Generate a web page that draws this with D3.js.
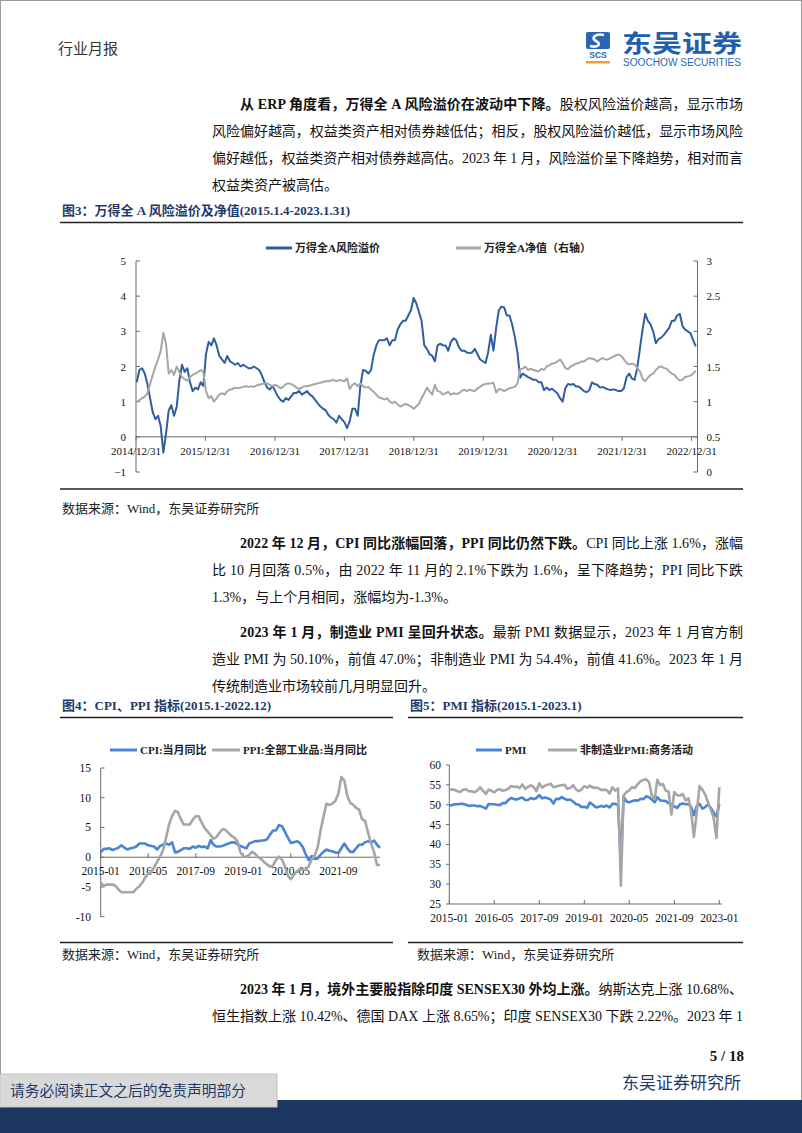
<!DOCTYPE html>
<html><head><meta charset="utf-8">
<script src="https://cdn.jsdelivr.net/npm/d3@7"></script>
<style>
html,body{margin:0;padding:0;background:#fff;}
svg{display:block;}
</style></head>
<body>
<svg id="page" width="802" height="1133"></svg>
<script>
// ---------------- DATA ----------------
// Fig.3: biweekly samples from 2015-01-04 to 2023-01
const erpStart = "2015-01-04";
const erpValues = [
1.55,1.9,1.95,1.8,1.5,1.1,0.7,0.5,0.6,0.3,
-0.45,0.1,0.75,0.9,0.6,0.85,1.6,2.05,1.85,1.95,
1.55,1.3,1.4,1.35,1.55,1.45,2.35,2.7,2.6,2.8,
2.6,2.3,2.2,2.1,2.3,2.15,2.1,2.05,2.1,2.0,
2.05,2.0,1.95,1.95,2.0,1.95,1.9,1.75,1.55,1.4,
1.35,1.45,1.3,1.15,1.05,1.0,1.1,1.05,1.15,1.25,
1.25,1.3,1.2,1.25,1.3,1.2,1.15,1.05,0.95,
0.86,0.8,0.75,0.62,0.55,0.5,0.4,0.6,0.5,0.42,
0.25,0.45,0.8,0.8,0.6,1.45,1.9,1.88,1.8,1.9,
2.33,2.6,2.75,2.75,2.75,2.8,2.6,2.75,2.75,3.05,
3.2,3.3,3.3,3.45,3.6,3.95,3.8,3.55,3.3,2.6,
2.5,2.35,2.3,2.15,2.6,2.65,2.6,2.6,2.45,2.7,
2.8,2.75,2.55,2.45,2.45,2.4,2.38,2.4,2.5,2.35,
2.2,2.15,2.1,2.4,2.9,2.45,3.1,3.6,
3.7,3.68,3.45,3.45,3.2,2.85,2.4,1.68,1.8,1.75,
1.7,1.66,1.62,1.62,1.55,1.55,1.33,1.4,1.33,1.37,
1.3,1.24,1.1,1.0,1.38,1.5,1.48,1.5,1.43,1.43,
1.37,1.3,1.27,1.33,1.55,1.5,1.48,1.4,1.42,1.38,
1.35,1.33,1.35,1.33,1.3,1.3,1.38,1.7,1.8,1.66,
1.62,1.95,2.5,3.05,3.5,3.3,3.2,3.0,2.66,2.78,
2.82,2.9,3.0,3.1,3.3,3.3,3.45,3.5,3.15,3.05,
3.0,2.95,2.75,2.57
];
const navValues = [
1.0,1.02,1.05,1.07,1.12,1.25,1.38,1.5,1.6,1.72,
1.98,1.82,1.4,1.45,1.38,1.5,1.42,1.35,1.32,1.3,
1.35,1.38,1.4,1.42,1.45,1.42,1.15,1.05,1.08,1.0,
1.05,1.1,1.12,1.1,1.15,1.17,1.18,1.2,1.19,1.2,
1.21,1.22,1.21,1.22,1.21,1.23,1.24,1.25,1.26,1.26,
1.24,1.22,1.24,1.22,1.19,1.21,1.25,1.26,1.25,1.23,
1.2,1.18,1.2,1.22,1.22,1.23,1.24,1.25,1.26,
1.27,1.28,1.29,1.29,1.3,1.31,1.29,1.31,1.3,1.29,
1.33,1.18,1.24,1.26,1.22,1.26,1.22,1.2,1.21,1.17,
1.14,1.1,1.06,1.05,1.03,1.05,1.0,0.98,1.0,0.96,
0.93,0.95,0.97,0.95,0.93,0.9,0.93,0.97,1.05,1.12,
1.2,1.15,1.1,1.24,1.15,1.14,1.1,1.12,1.14,1.1,
1.12,1.11,1.12,1.15,1.17,1.15,1.17,1.16,1.15,1.19,
1.21,1.24,1.25,1.26,1.26,1.27,1.13,1.18,
1.17,1.15,1.17,1.19,1.2,1.21,1.26,1.46,1.47,1.5,
1.45,1.47,1.45,1.44,1.43,1.47,1.45,1.5,1.52,1.54,
1.55,1.57,1.6,1.55,1.48,1.46,1.5,1.52,1.54,1.55,
1.57,1.57,1.6,1.62,1.61,1.6,1.57,1.6,1.62,1.6,
1.6,1.62,1.64,1.66,1.67,1.65,1.6,1.55,1.53,1.54,
1.53,1.48,1.43,1.33,1.29,1.34,1.38,1.4,1.45,1.49,
1.5,1.48,1.47,1.43,1.4,1.38,1.33,1.3,1.31,1.35,
1.36,1.37,1.4,1.44
];
const fig3XTicks = ["2014/12/31","2015/12/31","2016/12/31","2017/12/31","2018/12/31","2019/12/31","2020/12/31","2021/12/31","2022/12/31"];
const fig3LeftTicks = [-1,0,1,2,3,4,5];
const fig3RightTicks = [0,0.5,1,1.5,2,2.5,3];

// Fig.4: monthly, 2015-01 .. 2022-11
const cpiStart = "2015-01";
const cpiValues = [
0.8,1.4,1.4,1.5,1.2,1.4,1.6,2.0,1.6,1.3,1.5,1.6,
1.8,2.3,2.3,2.3,2.0,1.9,1.8,1.3,1.9,2.1,2.3,2.1,
2.5,0.8,0.9,1.2,1.5,1.5,1.4,1.8,1.6,1.9,1.7,1.8,
1.5,2.9,2.1,1.8,1.8,1.9,2.1,2.3,2.5,2.5,2.2,1.9,
1.7,1.5,2.3,2.5,2.7,2.7,2.8,2.8,3.0,3.8,4.5,4.5,
5.4,5.2,4.3,3.3,2.4,2.5,2.7,2.4,1.7,0.5,-0.5,0.2,
-0.3,-0.2,0.4,0.9,1.3,1.1,1.0,0.8,0.7,1.5,2.3,1.5,
0.9,0.9,1.5,2.1,2.1,2.5,2.7,2.5,2.8,2.1,1.6
];
const ppiValues = [
-4.3,-4.8,-4.6,-4.6,-4.6,-4.8,-5.4,-5.9,-5.9,-5.9,-5.9,-5.9,
-5.3,-4.9,-4.3,-3.4,-2.8,-2.6,-1.7,-0.8,0.1,1.2,3.3,5.5,
6.9,7.8,7.6,6.4,5.5,5.5,5.5,6.3,6.9,6.9,5.8,4.9,
4.3,3.7,3.1,3.4,4.1,4.7,4.6,4.1,3.6,3.3,2.7,0.9,
0.1,0.1,0.4,0.9,0.6,0.0,-0.3,-0.8,-1.2,-1.6,-1.4,-0.5,
0.1,-0.4,-1.5,-3.1,-3.7,-3.0,-2.4,-2.0,-2.1,-2.1,-1.5,-0.4,
0.3,1.7,4.4,6.8,9.0,8.8,9.0,9.5,10.7,13.5,12.9,10.3,
9.1,8.8,8.3,8.0,6.4,6.1,4.2,2.3,0.9,-1.3,-1.3
];
const fig4XTicks = ["2015-01","2016-05","2017-09","2019-01","2020-05","2021-09"];
const fig4YTicks = [-10,-5,0,5,10,15];

// Fig.5: monthly, 2015-01 .. 2023-01
const pmiStart = "2015-01";
const pmiValues = [
49.8,49.9,50.1,50.1,50.2,50.2,50.0,49.7,49.8,49.8,49.6,49.7,
49.4,49.0,50.2,50.1,50.1,50.0,49.9,50.4,50.4,51.2,51.7,51.4,
51.3,51.6,51.8,51.2,51.2,51.7,51.4,51.7,52.4,51.6,51.8,51.6,
51.3,50.3,51.5,51.4,51.9,51.5,51.2,51.3,50.8,50.2,50.0,49.4,
49.5,49.2,50.5,50.1,49.4,49.4,49.7,49.5,49.8,49.3,50.2,50.2,
50.0,35.7,52.0,50.8,50.6,50.9,51.1,51.0,51.5,51.4,52.1,51.9,
51.3,50.6,51.9,51.1,51.0,50.9,50.4,50.1,49.6,49.2,50.1,50.3,
50.1,50.2,49.5,47.4,49.6,50.2,49.0,49.4,50.1,49.2,48.0,47.0,
50.1
];
const nonMfgValues = [
53.7,53.9,53.7,53.4,53.2,53.8,53.9,53.4,53.4,53.1,53.6,54.4,
53.5,52.7,53.8,53.5,53.1,53.7,53.9,53.5,53.7,54.0,54.7,54.5,
54.6,54.2,55.1,54.0,54.5,54.9,54.5,53.4,55.4,54.3,54.8,55.0,
55.3,54.4,54.6,54.8,54.9,55.0,54.0,54.2,54.9,53.9,53.4,53.8,
54.7,54.3,54.8,54.3,54.3,54.2,53.7,53.8,53.7,52.8,54.4,53.5,
54.1,29.6,52.3,53.2,53.6,54.4,54.2,55.2,55.9,56.2,56.4,55.7,
52.4,51.4,56.3,54.9,55.2,53.5,53.3,47.5,53.2,52.4,52.3,52.7,
51.1,51.6,48.4,41.9,47.8,54.7,53.8,52.6,50.6,48.7,46.7,41.6,
54.4
];
const fig5XTicks = ["2015-01","2016-05","2017-09","2019-01","2020-05","2021-09","2023-01"];
const fig5YTicks = [25,30,35,40,45,50,55,60];

// ---------------- PAGE ----------------
const svg = d3.select("#page");
const SERIF = "'Liberation Serif','Times New Roman','Noto Sans CJK SC',serif";
const CJK = "'Noto Sans CJK SC',sans-serif";
const NAVY = "#1f3a68";
const BLUE3 = "#2f5f9f", GRAY = "#a6a6a6", BLUE45 = "#4a84d4";
const AXIS = "#6b6b6b";

svg.append("rect").attr("x",0.5).attr("y",0.5).attr("width",801).attr("height",1132)
  .attr("fill","#fff").attr("stroke","#9a9a9a");

// header
svg.append("text").attr("x",58).attr("y",54).attr("font-family",CJK).attr("font-size",15)
  .attr("fill","#333").text("行业月报");
// logo
const logo = svg.append("g");
logo.append("rect").attr("x",586).attr("y",32).attr("width",24).attr("height",17).attr("rx",2).attr("fill","#2a66b3");
logo.append("path").attr("d","M604,35 C596,33 590,38 596,41 C602,44 598,48 590,46")
  .attr("fill","none").attr("stroke","#fff").attr("stroke-width",2.6);
logo.append("text").attr("x",598).attr("y",58).attr("text-anchor","middle").attr("font-family","'Liberation Sans',sans-serif")
  .attr("font-weight","bold").attr("font-size",8.5).attr("fill","#2a66b3").text("SCS");
logo.append("rect").attr("x",586).attr("y",61).attr("width",24).attr("height",2.5).attr("fill","#f0a030");
logo.append("text").attr("x",622).attr("y",52).attr("font-family",CJK).attr("font-weight","bold").attr("font-size",24)
  .attr("fill","#1f5fae").attr("textLength",120).attr("lengthAdjust","spacingAndGlyphs").text("东吴证券");
logo.append("text").attr("x",623).attr("y",66).attr("font-family","'Liberation Sans',sans-serif").attr("font-size",10)
  .attr("fill","#2a66b3").attr("textLength",118).attr("lengthAdjust","spacingAndGlyphs").text("SOOCHOW SECURITIES");

// body text helper
const RIGHT = 743;
function line(x, y, parts, justify, size, color) {
  const t = svg.append("text").attr("x",x).attr("y",y).attr("font-family",SERIF)
    .attr("font-size",size||14).attr("fill",color||"#111");
  parts.forEach(p => {
    const s = typeof p === "string" ? p : p[0];
    const b = typeof p === "string" ? false : p[1];
    t.append("tspan").attr("font-weight", b ? "bold" : "normal").text(s);
  });
  if (justify) t.attr("textLength", RIGHT - x).attr("lengthAdjust","spacing");
  return t;
}
const L0 = 212, L1 = 240;
line(L1,109,[["从 ERP 角度看，万得全 A 风险溢价在波动中下降。",true],"股权风险溢价越高，显示市场"],true);
line(L0,136,["风险偏好越高，权益类资产相对债券越低估；相反，股权风险溢价越低，显示市场风险"],true);
line(L0,163,["偏好越低，权益类资产相对债券越高估。2023 年 1 月，风险溢价呈下降趋势，相对而言"],true);
line(L0,190,["权益类资产被高估。"],false);

function figTitle(x, y, s, x2) {
  svg.append("text").attr("x",x).attr("y",y).attr("font-family",SERIF).attr("font-weight","bold")
    .attr("font-size",13).attr("fill",NAVY).text(s);
  svg.append("line").attr("x1",x-2).attr("x2",x2).attr("y1",y+8).attr("y2",y+8).attr("stroke","#222").attr("stroke-width",1.3);
}
function source(x, y) {
  svg.append("text").attr("x",x).attr("y",y).attr("font-family",SERIF).attr("font-size",13)
    .attr("fill","#222").text("数据来源：Wind，东吴证券研究所");
}
figTitle(62,214.5,"图3：万得全 A 风险溢价及净值(2015.1.4-2023.1.31)",743);
svg.append("line").attr("x1",60).attr("x2",743).attr("y1",489).attr("y2",489).attr("stroke","#222").attr("stroke-width",1.3);
source(62,512.5);

line(L1,548,[["2022 年 12 月，CPI 同比涨幅回落，PPI 同比仍然下跌。",true],"CPI 同比上涨 1.6%，涨幅"],true);
line(L0,575,["比 10 月回落 0.5%，由 2022 年 11 月的 2.1%下跌为 1.6%，呈下降趋势；PPI 同比下跌"],true);
line(L0,602,["1.3%，与上个月相同，涨幅均为-1.3%。"],false);
line(L1,637,[["2023 年 1 月，制造业 PMI 呈回升状态。",true],"最新 PMI 数据显示，2023 年 1 月官方制"],true);
line(L0,664,["造业 PMI 为 50.10%，前值 47.0%；非制造业 PMI 为 54.4%，前值 41.6%。2023 年 1 月"],true);
line(L0,691,["传统制造业市场较前几月明显回升。"],false);

figTitle(62,709.5,"图4：CPI、PPI 指标(2015.1-2022.12)",393);
figTitle(410,709.5,"图5：PMI 指标(2015.1-2023.1)",743);
svg.append("line").attr("x1",60).attr("x2",393).attr("y1",942.5).attr("y2",942.5).attr("stroke","#222").attr("stroke-width",1.3);
svg.append("line").attr("x1",408).attr("x2",743).attr("y1",942.5).attr("y2",942.5).attr("stroke","#222").attr("stroke-width",1.3);
source(62,958.5);
source(417,958.5);

line(L1,994,[["2023 年 1 月，境外主要股指除印度 SENSEX30 外均上涨。",true],"纳斯达克上涨 10.68%、"],true);
line(L0,1021,["恒生指数上涨 10.42%、德国 DAX 上涨 8.65%；印度 SENSEX30 下跌 2.22%。2023 年 1"],true);

// footer
svg.append("rect").attr("x",0).attr("y",1100).attr("width",802).attr("height",33).attr("fill","#1b365f");
svg.append("rect").attr("x",0).attr("y",1074).attr("width",277).attr("height",33).attr("fill","#d9d9d9").attr("stroke","#c4c4c4");
svg.append("text").attr("x",10).attr("y",1096).attr("font-family",CJK).attr("font-size",14.5).attr("fill",NAVY)
  .attr("textLength",236).attr("lengthAdjust","spacingAndGlyphs").text("请务必阅读正文之后的免责声明部分");
svg.append("text").attr("x",744).attr("y",1061).attr("text-anchor","end").attr("font-family",SERIF)
  .attr("font-weight","bold").attr("font-size",15).attr("fill","#111").text("5 / 18");
svg.append("text").attr("x",741).attr("y",1089).attr("text-anchor","end").attr("font-family",CJK)
  .attr("font-size",17).attr("fill",NAVY).text("东吴证券研究所");

// ---------------- CHART HELPERS ----------------
function legendItem(x1, x2, y, color, label) {
  svg.append("line").attr("x1",x1).attr("x2",x2).attr("y1",y).attr("y2",y).attr("stroke",color).attr("stroke-width",3);
  svg.append("text").attr("x",x2+3).attr("y",y+4).attr("font-family",SERIF).attr("font-weight","bold")
    .attr("font-size",11).attr("fill","#222").text(label);
}
function pathLine(data, x, y, color, w) {
  svg.append("path").datum(data)
    .attr("d", d3.line().x(d => x(d.date)).y(d => y(d.v)))
    .attr("fill","none").attr("stroke",color).attr("stroke-width",w).attr("stroke-linejoin","round");
}
function vline(x, y1, y2) {
  svg.append("line").attr("x1",x).attr("x2",x).attr("y1",y1).attr("y2",y2).attr("stroke",AXIS).attr("stroke-width",1);
}
function hline(y, x1, x2) {
  svg.append("line").attr("x1",x1).attr("x2",x2).attr("y1",y).attr("y2",y).attr("stroke",AXIS).attr("stroke-width",1);
}
function label(x, y, s, anchor, size) {
  svg.append("text").attr("x",x).attr("y",y).attr("text-anchor",anchor).attr("font-family",SERIF)
    .attr("font-size",size||11).attr("fill","#111").text(s);
}

// ---------------- FIG 3 ----------------
{
  const parseD = d3.timeParse("%Y-%m-%d"), parseT = d3.timeParse("%Y/%m/%d");
  const start = parseD(erpStart);
  const dates = erpValues.map((_, i) => d3.timeDay.offset(start, 14 * i));
  const x = d3.scaleTime().domain([parseT("2014/12/31"), parseT("2023/01/31")]).range([136, 697.5]);
  const yL = d3.scaleLinear().domain([-1, 5]).range([472, 261]);
  const yR = d3.scaleLinear().domain([0, 3]).range([472, 261]);
  vline(x.range()[0], yL(5), yL(-1));
  vline(x.range()[1], yL(5), yL(-1));
  hline(yL(0), x.range()[0], x.range()[1]);
  fig3LeftTicks.forEach(v => {
    hline(yL(v), x.range()[0], x.range()[0] + 4);
    label(x.range()[0] - 10, yL(v) + 4, d3.format("")(v), "end", 11);
  });
  fig3RightTicks.forEach(v => {
    hline(yR(v), x.range()[1] - 4, x.range()[1]);
    label(x.range()[1] + 9, yR(v) + 4, String(v), "start", 11);
  });
  fig3XTicks.forEach(s => {
    const xx = x(parseT(s));
    vline(xx, yL(0), yL(0) + 4);
    label(xx, yL(0) + 18, s, "middle", 11);
  });
  pathLine(dates.map((d, i) => ({date: d, v: erpValues[i]})), x, yL, BLUE3, 2);
  pathLine(dates.map((d, i) => ({date: d, v: navValues[i]})), x, yR, GRAY, 2);
  legendItem(266, 292, 248, BLUE3, "万得全A风险溢价");
  legendItem(456, 481, 248, GRAY, "万得全A净值（右轴）");
}

// ---------------- FIG 4 ----------------
{
  const parseM = d3.timeParse("%Y-%m");
  const start = parseM(cpiStart);
  const dates = cpiValues.map((_, i) => d3.timeMonth.offset(start, i));
  const x = d3.scaleTime().domain([start, dates[dates.length - 1]]).range([100.7, 380]);
  const y = d3.scaleLinear().domain([-10, 15]).range([916.7, 768]);
  vline(100.7, y(15), y(-10));
  hline(y(0), 100.7, 380);
  fig4YTicks.forEach(v => {
    hline(y(v), 100.7, 104.5);
    label(91, y(v) + 4, String(v), "end", 11.5);
  });
  fig4XTicks.forEach(s => {
    const xx = x(parseM(s));
    vline(xx, y(0) - 4, y(0));
    label(xx, y(0) + 18, s, "middle", 11.5);
  });
  pathLine(dates.map((d, i) => ({date: d, v: cpiValues[i]})), x, y, BLUE45, 2.6);
  pathLine(dates.map((d, i) => ({date: d, v: ppiValues[i]})), x, y, GRAY, 2.6);
  legendItem(110, 137, 750, BLUE45, "CPI:当月同比");
  legendItem(212, 240, 750, GRAY, "PPI:全部工业品:当月同比");
}

// ---------------- FIG 5 ----------------
{
  const parseM = d3.timeParse("%Y-%m");
  const start = parseM(pmiStart);
  const dates = pmiValues.map((_, i) => d3.timeMonth.offset(start, i));
  const x = d3.scaleTime().domain([start, dates[dates.length - 1]]).range([449.3, 719.3]);
  const y = d3.scaleLinear().domain([25, 60]).range([904, 765]);
  vline(449.3, y(60), y(25));
  hline(y(25), 449.3, 722);
  fig5YTicks.forEach(v => {
    hline(y(v), 446, 449.3);
    label(441, y(v) + 4, String(v), "end", 11.5);
  });
  fig5XTicks.forEach(s => {
    const xx = x(parseM(s));
    vline(xx, y(25) - 4, y(25));
    label(xx, y(25) + 18, s, "middle", 11.5);
  });
  pathLine(dates.map((d, i) => ({date: d, v: pmiValues[i]})), x, y, BLUE45, 2.6);
  pathLine(dates.map((d, i) => ({date: d, v: nonMfgValues[i]})), x, y, GRAY, 2.6);
  legendItem(476, 502, 750, BLUE45, "PMI");
  legendItem(548, 577, 750, GRAY, "非制造业PMI:商务活动");
}
</script>
</body></html>
